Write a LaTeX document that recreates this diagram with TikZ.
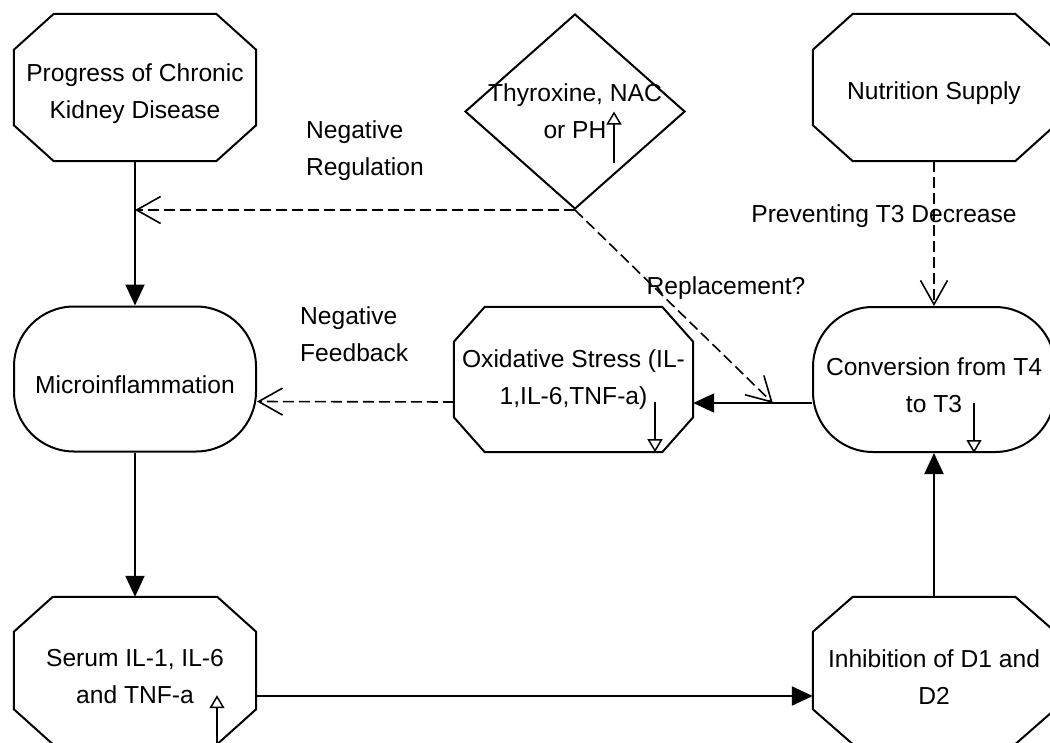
\documentclass[tikz,border=0pt]{standalone}
\usepackage{fontspec}
\setmainfont{Liberation Sans}
\usetikzlibrary{arrows.meta,shapes.geometric}
\newcommand{\tall}{\rule{0pt}{30pt}}

\begin{document}
\begin{tikzpicture}[x=1pt,y=-1pt,
  every node/.style={font=\fontsize{24.6}{37}\selectfont, align=center},
  octbox/.style args={#1/#2}{rectangle, minimum width=242pt, minimum height=147pt,
    inner sep=0pt,
    append after command={\pgfextra{\draw[line width=2pt]
      ([xshift=#1pt]\tikzlastnode.north west) -- ([xshift=-#1pt]\tikzlastnode.north east)
      -- ([yshift=-#2pt]\tikzlastnode.north east) -- ([yshift=#2pt]\tikzlastnode.south east)
      -- ([xshift=-#1pt]\tikzlastnode.south east) -- ([xshift=#1pt]\tikzlastnode.south west)
      -- ([yshift=#2pt]\tikzlastnode.south west) -- ([yshift=-#2pt]\tikzlastnode.north west)
      -- cycle;}}},
  roundbox/.style={draw, line width=2pt, rectangle, rounded corners=60pt,
    minimum width=242pt, minimum height=145pt},
  flow/.style={line width=2pt, -{Triangle[width=19pt,length=21pt]}},
  hint/.style={line width=1.6pt, dash pattern=on 11pt off 5pt,
    -{Straight Barb[length=24pt,width=27pt]}},
  trend/.style={line width=1.5pt, -{Triangle[open,width=15pt,length=13pt]}},
  note/.style={anchor=west, align=left, inner sep=0pt}]
  \useasboundingbox (0,0) rectangle (1050,742);

  \node[octbox=40/36] (ckd) at (135,87.5) {\tall Progress of Chronic\\Kidney Disease};
  \node[draw, line width=2pt, diamond, minimum width=220pt, minimum height=195pt,
    inner xsep=-45pt, inner ysep=0pt] (thy) at (575,111.5) {Thyroxine, NAC\\or PH};
  \node[octbox=40/36] (nut) at (934,87.5) {\tall Nutrition Supply};
  \node[roundbox] (micro) at (135,379) {\tall Microinflammation};
  \node[octbox=31/35, minimum width=239pt, minimum height=145pt] (oxi) at (573.5,379.5) {Oxidative Stress (IL-\\1,IL-6,TNF-a)};
  \node[roundbox] (conv) at (934,379.5) {\tall Conversion from T4\\to T3};
  \node[octbox=39/35] (serum) at (135,670.5) {\tall Serum IL-1, IL-6\\and TNF-a};
  \node[octbox=40/35] (inhib) at (934,670.5) {\tall Inhibition of D1 and\\D2};

  \node[note] (negreg) at (306,151) {Negative\\Regulation};
  \node[note] (negfb) at (300,334) {Negative\\Feedback};
  \node[anchor=base] (prevent) at (884,222) {Preventing T3 Decrease};
  \node[anchor=base] (replace) at (726,294) {Replacement?};

  \draw[flow] (ckd) -- (micro);
  \draw[flow] (micro) -- (serum);
  \draw[flow] ([yshift=-25.5pt]serum.east) -- ([yshift=-25.5pt]inhib.west);
  \draw[flow] (inhib) -- (conv);
  \draw[flow] ([yshift=-23.5pt]conv.west) -- coordinate[pos=0.33] (hit) ([yshift=-23.5pt]oxi.east);

  \draw[hint] ([yshift=-22.5pt]oxi.west) -- ([yshift=-22.5pt]micro.east);
  \draw[hint] (nut) -- (conv);
  \draw[hint] (thy.south) -- (thy.south -| ckd.south);
  \draw[hint] (thy.south) -- (hit);

  \draw[trend] ([xshift=39pt,yshift=-51pt]thy.center) -- ([xshift=39pt]thy.center);
  \draw[trend] ([xshift=82pt]serum.south) -- ([xshift=82pt,yshift=49pt]serum.south);
  \foreach \n/\dx in {oxi/81.5, conv/40}
    \draw[trend] ([xshift=\dx pt,yshift=50pt]\n.south) -- ([xshift=\dx pt]\n.south);
\end{tikzpicture}
\end{document}
